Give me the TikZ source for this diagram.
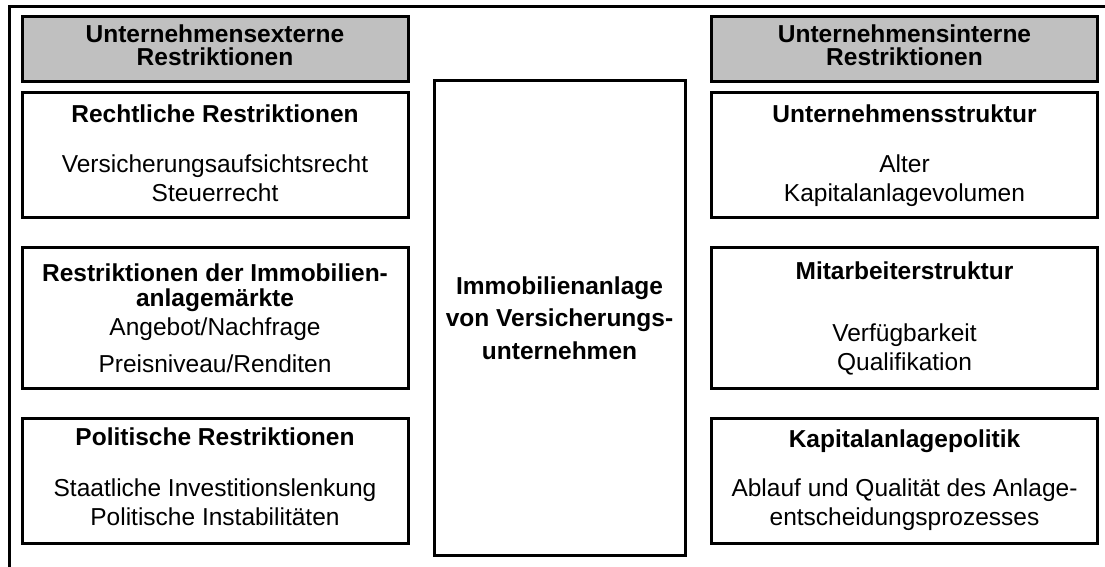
\documentclass[tikz,border=0pt]{standalone}
\usepackage{fontspec}
\setmainfont{Liberation Sans}
\usepackage{xcolor}
\usetikzlibrary{positioning}
\definecolor{hdrgray}{RGB}{192,192,192}

\begin{document}
\begin{tikzpicture}[x=0.5pt, y=-0.5pt, line width=1.5pt, node distance=13.5pt,
       every node/.style={font=\fontsize{12.25}{14.5}\selectfont, align=center, inner sep=0pt},
       hdr/.style={draw, fill=hdrgray, minimum width=193pt, minimum height=32.5pt,
                   font=\fontsize{12.25}{11.75}\selectfont\bfseries, text depth=4.5pt},
       box/.style={draw, fill=white, minimum width=193pt, minimum height=62.5pt},
       bigbox/.style={box, minimum height=70pt}]
       \useasboundingbox (0,0) rectangle (1105,567);

       % Frame
       \draw (9.5,567) -- (9.5,6.5) -- (1105,6.5);

       % Left column
       \node[hdr] (extHd) at (215,49.5) {Unternehmensexterne\\Restriktionen};
       \node[box, below=4pt of extHd, text depth=2pt] (recht)
           {\textbf{Rechtliche Restriktionen}\\[10.5pt]
            Versicherungsaufsichtsrecht\\ Steuerrecht};
       \node[bigbox, below=of recht] (markt)
           {\textbf{Restriktionen der Immobilien-}\\[-2pt] \textbf{anlagemärkte}\\
            Angebot/Nachfrage\\[4pt] Preisniveau/Renditen};
       \node[box, below=of markt, text depth=4pt] (polit)
           {\textbf{Politische Restriktionen}\\[11pt]
            Staatliche Investitionslenkung\\ Politische Instabilitäten};

       % Center
       \node[draw, minimum width=125.5pt, minimum height=237pt,
             font=\fontsize{12.25}{14.5}\selectfont\bfseries] (immo) at (559.5,318)
           {Immobilienanlage\\[1.75pt] von Versicherungs-\\[1.75pt] unternehmen};

       % Right column
       \node[hdr] (intHd) at (904.5,49.5) {Unternehmensinterne\\Restriktionen};
       \node[box, below=4pt of intHd, text depth=2pt] (struktur)
           {\textbf{Unternehmensstruktur}\\[10.5pt]
            Alter\\ Kapitalanlagevolumen};
       \node[bigbox, below=of struktur] (personal)
           {\textbf{Mitarbeiterstruktur}\\[16.5pt]
            Verfügbarkeit\\ Qualifikation};
       \node[box, below=of personal] (politik)
           {\textbf{Kapitalanlagepolitik}\\[10pt]
            Ablauf und Qualität des Anlage-\\ entscheidungsprozesses};
\end{tikzpicture}
\end{document}
